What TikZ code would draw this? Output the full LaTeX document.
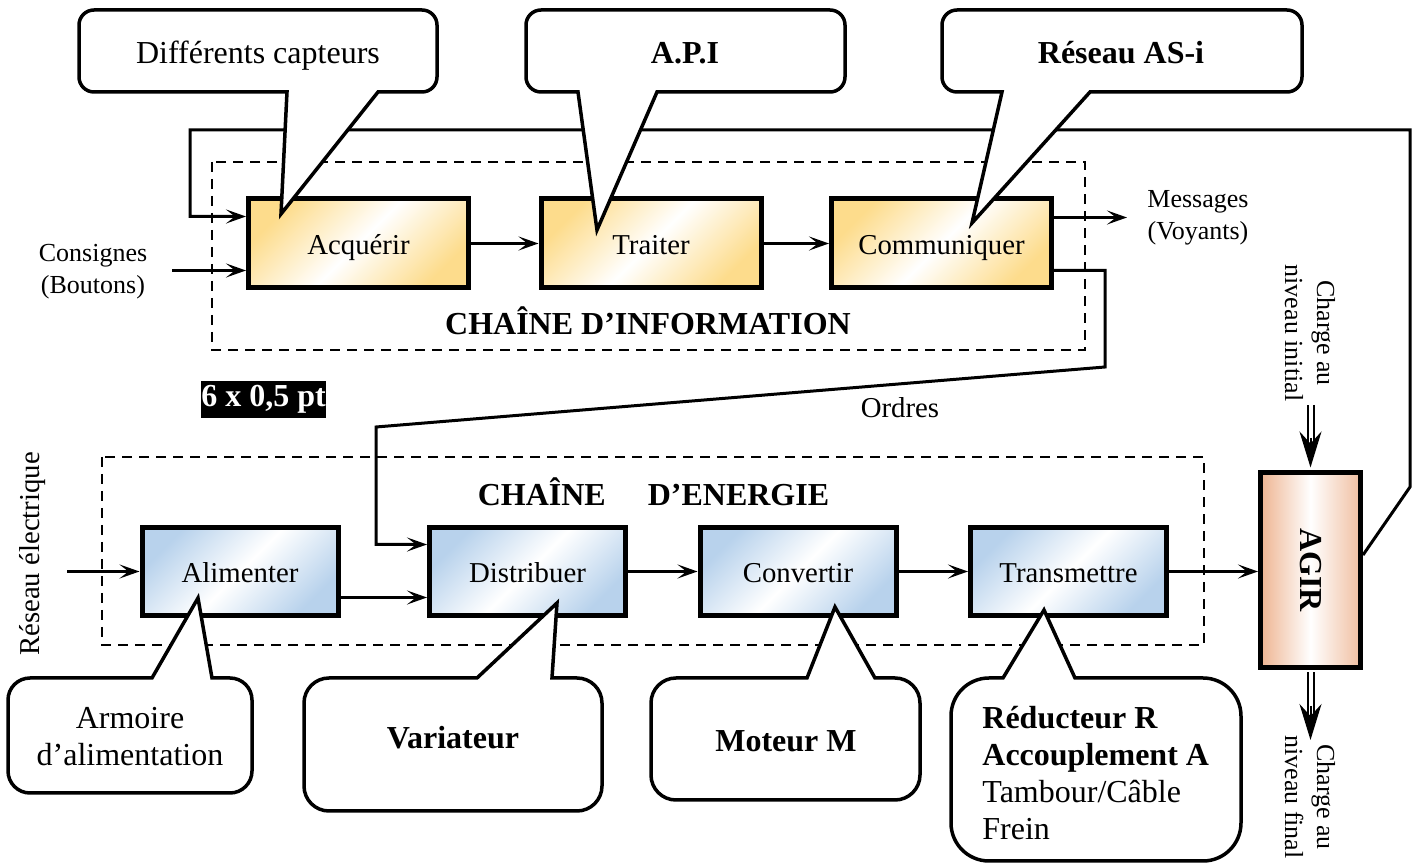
\documentclass[tikz,border=0pt]{standalone}
\usepackage{fontspec}
\setmainfont[Ligatures=TeX]{Liberation Serif}
\usetikzlibrary{arrows.meta,calc}
\definecolor{yel}{RGB}{253,220,140}
\definecolor{blu}{RGB}{184,210,236}
\definecolor{ora}{RGB}{238,180,145}
\tikzset{
  conn/.style={line width=1.5pt},
  arr/.style={-{Stealth[length=10pt,width=7pt,inset=4.5pt]}},
  dashbox/.style={line width=1pt, dash pattern=on 5pt off 3.5pt},
  fbox/.style={draw, line width=2.5pt, inner sep=0pt, text height=13.8pt, text depth=2.5pt, font=\fontsize{14.4}{17}\selectfont},
  infobox/.style={fbox, minimum width=110pt, minimum height=44.5pt, top color=yel, bottom color=yel, middle color=white, shading angle=45},
  enbox/.style={fbox, minimum width=98pt, minimum height=44pt, top color=blu, bottom color=blu, middle color=white, shading angle=45},
  agirbox/.style={draw, line width=2.5pt, inner sep=0pt, minimum width=50pt, minimum height=97.5pt, left color=ora, right color=ora!85, middle color=white},
  title/.style={font=\fontsize{16}{19}\selectfont\bfseries, inner sep=0pt},
  sidelbl/.style={font=\fontsize{13}{16}\selectfont, inner sep=0pt},
  lbl/.style={font=\fontsize{14.4}{17}\selectfont, inner sep=0pt},
  cotext/.style={font=\fontsize{16}{18.5}\selectfont, inner sep=0pt},
  cobold/.style={font=\fontsize{16}{18.5}\selectfont\bfseries, inner sep=0pt},
  callout/.style={draw, fill=white, line width=1.75pt, line join=miter},
  dbl/.style={line width=1pt, double distance=2pt},
  dblhead/.style={line width=1pt, -{Stealth[length=18pt,width=11pt,inset=6pt]}}
}
\newcommand\cotop[8]{% x1,y1,x2,y2,r,bA,bB,tip  (tail on bottom edge)
  \draw[callout] (#6,#4) -- #8 -- (#7,#4) -- ({#3-#5},#4)
    arc[start angle=90,end angle=0,radius=#5] -- (#3,{#2+#5})
    arc[start angle=0,end angle=-90,radius=#5] -- ({#1+#5},#2)
    arc[start angle=-90,end angle=-180,radius=#5] -- (#1,{#4-#5})
    arc[start angle=180,end angle=90,radius=#5] -- cycle;}
\newcommand\cobot[8]{% x1,y1,x2,y2,r,bA,bB,tip  (tail on top edge)
  \draw[callout] (#6,#2) -- #8 -- (#7,#2) -- ({#3-#5},#2)
    arc[start angle=-90,end angle=0,radius=#5] -- (#3,{#4-#5})
    arc[start angle=0,end angle=90,radius=#5] -- ({#1+#5},#4)
    arc[start angle=90,end angle=180,radius=#5] -- (#1,{#2+#5})
    arc[start angle=180,end angle=270,radius=#5] -- cycle;}
\begin{document}
\begin{tikzpicture}[x=0.5pt,y=-0.5pt]
\useasboundingbox (0,0) rectangle (1421,865);

% dashed frames
\draw[dashbox] (212,162) rectangle (1085,350);
\draw[dashbox] (102,457) rectangle (1204,645);

% function boxes
\node[infobox] (acq) at (358.5,243.5) {Acquérir};
\node[infobox] (trt) at (651,243.5) {Traiter};
\node[infobox] (com) at (941.5,243.5) {Communiquer};
\node[enbox] (ali) at (240,571.5) {Alimenter};
\node[enbox] (dis) at (527.5,571.5) {Distribuer};
\node[enbox] (cnv) at (798,571.5) {Convertir};
\node[enbox] (trm) at (1068.5,571.5) {Transmettre};
\node[agirbox] (agir) at (1310.5,570) {};
\node[title, rotate=-90] (agirlbl) at (agir.center) {AGIR};

% titles and labels
\node[title] (tinfo) at (648,321) {CHAÎNE D’INFORMATION};
\node[title] (tener) at (653.5,492) {CHAÎNE\hspace{21pt}D’ENERGIE};
\node[sidelbl, align=center] (cons) at (93,272) {Consignes\\(Boutons)};
\node[sidelbl, align=center] (msg) at (1198,218) {Messages\\(Voyants)};
\node[lbl] (ord) at (900,408) {Ordres};
\node[lbl, rotate=90] (res) at (33,554) {Réseau électrique};
\node[sidelbl, rotate=-90, align=center] (chi) at (1310,333) {Charge au\\niveau initial};
\node[sidelbl, rotate=-90, align=center] (chf) at (1310,797) {Charge au\\niveau final};
\node[title, fill=black, text=white, minimum width=62.5pt, minimum height=18.5pt] (note) at (263.5,399.5) {6 x 0,5 pt};

% coordinates
\coordinate (consS) at (172,270.5);
\coordinate (fb1) at (1410,487);
\coordinate (fb2) at (1410,130);
\coordinate (fb3) at (190,130);
\coordinate (m0) at ([yshift=13pt]com.east);
\coordinate (msgE) at (1127,217);
\coordinate (o0) at ([yshift=-13.5pt]com.east);
\coordinate (o1) at (1105,367);
\coordinate (o2) at (376,427);
\coordinate (o3) at ([yshift=13.5pt]dis.west);
\coordinate (rs) at (67,571.5);
\coordinate (a0) at ([yshift=-13pt]ali.east);
\coordinate (ci) at (1310.5,405);
\coordinate (cf) at (1310.5,740);

% connectors
\draw[conn,arr] (consS) -- (consS -| acq.west);
\draw[conn,arr] ([yshift=7.5pt]agir.east) -- (fb1) -- (fb2) -- (fb3) |- ([yshift=13.5pt]acq.west);
\draw[conn,arr] (acq) -- (trt);
\draw[conn,arr] (trt) -- (com);
\draw[conn,arr] (m0) -- (m0 -| msgE);
\draw[conn,arr] (o0) -| (o1) -- (o2) |- (o3);
\draw[conn,arr] (rs) -- (ali.west);
\draw[conn,arr] (a0) -- (a0 -| dis.west);
\draw[conn,arr] (dis) -- (cnv);
\draw[conn,arr] (cnv) -- (trm);
\draw[conn,arr] (trm.east) -- (trm.east -| agir.west);

% double arrows
\draw[dbl] (ci) -- ($(agir.north)+(0,-24)$);
\draw[dblhead] ($(agir.north)+(0,-32)$) -- ($(agir.north)+(0,-2.5)$);
\draw[dbl] ($(agir.south)+(0,2.5)$) -- ($(cf)+(0,-26)$);
\draw[dblhead] ($(cf)+(0,-34)$) -- (cf);

% callouts
\cotop{79}{10}{437}{92}{15}{287}{378}{(281,214)}
\cotop{526}{10}{845}{92}{15}{578}{657}{(597,230)}
\cotop{942}{10}{1302}{92}{15}{1002}{1090}{(972,223)}
\cobot{8}{678}{252}{793}{22}{152}{212}{(198,598)}
\cobot{304}{678}{602}{811}{25}{477}{552}{(557,603)}
\cobot{651}{678}{920}{800}{25}{807}{875}{(835,607)}
\cobot{951}{678}{1241}{861}{38}{1003}{1075}{(1044,610)}

\node[cotext] (c1) at (258,55.5) {Différents capteurs};
\node[cobold] (c2) at (685,53) {A.P.I};
\node[cobold] (c3) at (1121,53) {Réseau AS-i};
\node[cotext, align=center] (c4) at (130,737) {Armoire\\d’alimentation};
\node[cobold] (c5) at (453,738) {Variateur};
\node[cobold] (c6) at (786,741) {Moteur M};
\node[cotext, align=left, anchor=west] (c7) at (982,773) {\textbf{Réducteur R}\\\textbf{Accouplement A}\\Tambour/Câble\\Frein};
\end{tikzpicture}
\end{document}
